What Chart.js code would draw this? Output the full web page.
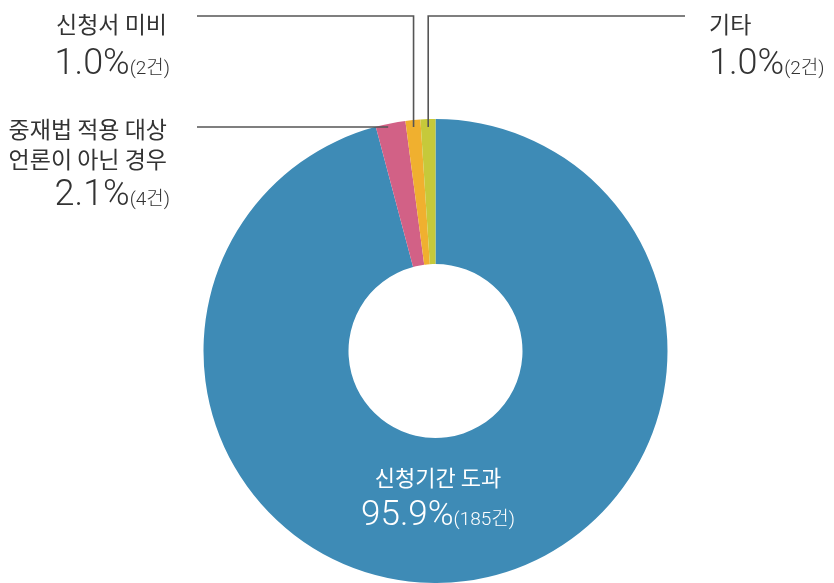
<!DOCTYPE html>
<html><head><meta charset="utf-8">
<script src="https://cdn.jsdelivr.net/npm/chart.js@4"></script>
<style>html,body{margin:0;padding:0;background:#fff}#wrap{width:834px;height:583px}</style>
</head><body><div id="wrap"><canvas id="c" width="834" height="583"></canvas></div>
<script>
const categories = ['신청기간 도과', '중재법 적용 대상 언론이 아닌 경우', '신청서 미비', '기타'];
const counts = [185, 4, 2, 2];
const percents = ['95.9%', '2.1%', '1.0%', '1.0%'];
const countLabels = ['(185건)', '(4건)', '(2건)', '(2건)'];
const colors = ['#3e8bb6', '#d26186', '#f0b02f', '#c6c93a'];

const FONT = "Roboto, 'Noto Sans CJK KR', sans-serif";
const KFONT = "'Noto Sans CJK KR', sans-serif";

function drawPair(ctx, big, small, x, y, bigSize, smallSize, align, color) {
  ctx.fillStyle = color;
  ctx.textBaseline = 'alphabetic';
  ctx.font = `300 ${bigSize}px ${FONT}`;
  const wb = ctx.measureText(big).width;
  ctx.font = `300 ${smallSize}px ${FONT}`;
  const ws = ctx.measureText(small).width;
  let x0;
  if (align === 'right') x0 = x - wb - ws;
  else if (align === 'center') x0 = x - (wb + ws) / 2;
  else x0 = x;
  ctx.textAlign = 'left';
  ctx.font = `300 ${bigSize}px ${FONT}`;
  ctx.fillText(big, x0, y);
  ctx.font = `300 ${smallSize}px ${FONT}`;
  ctx.fillText(small, x0 + wb, y);
}

const labelsPlugin = {
  id: 'labels',
  afterDraw(chart) {
    const ctx = chart.ctx;
    const arcs = chart.getDatasetMeta(0).data;
    const pt = (i, yTarget) => {
      const a = arcs[i];
      const mid = (a.startAngle + a.endAngle) / 2;
      const r = (a.y - yTarget) / -Math.sin(mid);
      return { x: a.x + r * Math.cos(mid), y: yTarget };
    };
    ctx.save();
    ctx.strokeStyle = '#555';
    ctx.lineWidth = 1.6;
    const p2 = pt(2, 127);
    ctx.beginPath();
    ctx.moveTo(197, 16); ctx.lineTo(p2.x, 16); ctx.lineTo(p2.x, 127);
    ctx.stroke();
    const p3 = pt(3, 127);
    ctx.beginPath();
    ctx.moveTo(685, 16); ctx.lineTo(p3.x, 16); ctx.lineTo(p3.x, 127);
    ctx.stroke();
    const p1 = pt(1, 127);
    ctx.beginPath();
    ctx.moveTo(197, 127); ctx.lineTo(p1.x - 3, 127);
    ctx.stroke();

    const dark = '#333';
    ctx.fillStyle = dark;
    ctx.textBaseline = 'middle';
    ctx.font = `400 23px ${KFONT}`;
    ctx.textAlign = 'right';
    ctx.fillText(categories[2], 167, 24);
    drawPair(ctx, percents[2], countLabels[2], 170, 74, 36, 19, 'right', dark);

    ctx.fillStyle = dark;
    ctx.textBaseline = 'middle';
    ctx.font = `400 23px ${KFONT}`;
    ctx.textAlign = 'right';
    ctx.fillText('중재법 적용 대상', 167, 129);
    ctx.fillText('언론이 아닌 경우', 167, 159);
    drawPair(ctx, percents[1], countLabels[1], 170, 205, 36, 19, 'right', dark);

    ctx.fillStyle = dark;
    ctx.textBaseline = 'middle';
    ctx.font = `400 23px ${KFONT}`;
    ctx.textAlign = 'left';
    ctx.fillText(categories[3], 709, 24);
    drawPair(ctx, percents[3], countLabels[3], 709, 74, 36, 19, 'left', dark);

    ctx.fillStyle = '#fff';
    ctx.textBaseline = 'middle';
    ctx.font = `400 22px ${KFONT}`;
    ctx.textAlign = 'center';
    ctx.fillText(categories[0], 438, 478);
    drawPair(ctx, percents[0], countLabels[0], 438, 525, 35, 19, 'center', '#fff');
    ctx.restore();
  }
};

new Chart(document.getElementById('c'), {
  type: 'doughnut',
  data: {
    labels: categories,
    datasets: [{ data: counts, backgroundColor: colors, borderWidth: 0, hoverOffset: 0 }]
  },
  options: {
    responsive: false,
    animation: false,
    cutout: 87,
    rotation: 0,
    layout: { padding: { top: 119, bottom: 0, left: 203, right: 166 } },
    plugins: { legend: { display: false }, tooltip: { enabled: false } },
    events: []
  },
  plugins: [labelsPlugin]
});
</script></body></html>
